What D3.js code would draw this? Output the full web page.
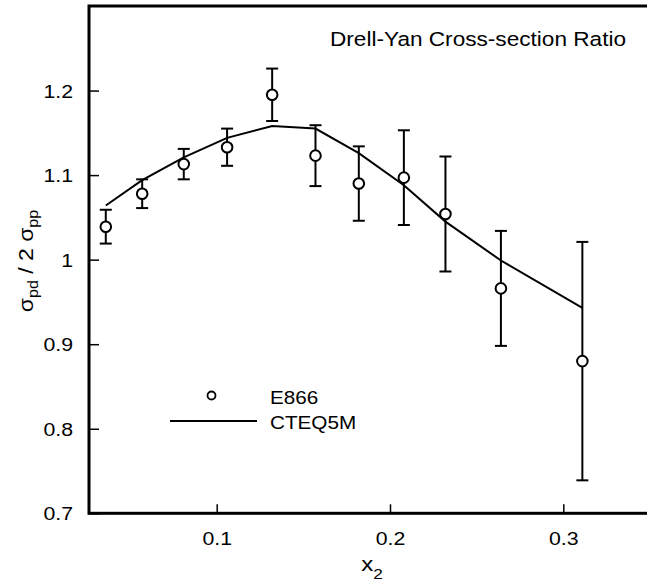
<!DOCTYPE html>
<html>
<head>
<meta charset="utf-8">
<script src="https://cdn.jsdelivr.net/npm/d3@7"></script>
<style>
  html, body { margin: 0; padding: 0; background: #fff; }
  svg { display: block; font-family: "Liberation Sans", Arial, Helvetica, sans-serif; }
</style>
</head>
<body>
<svg id="chart" width="647" height="582"></svg>
<script>
// ---- data ----
const x2Values   = [0.036, 0.057, 0.081, 0.106, 0.132, 0.157, 0.182, 0.208, 0.232, 0.264, 0.311];
const e866Ratio  = [1.039, 1.078, 1.113, 1.133, 1.195, 1.123, 1.090, 1.097, 1.054, 0.966, 0.880];
const e866Error  = [0.020, 0.017, 0.018, 0.022, 0.031, 0.036, 0.044, 0.056, 0.068, 0.068, 0.141];
const cteq5mRatio = [1.064, 1.094, 1.121, 1.144, 1.158, 1.155, 1.126, 1.088, 1.045, 0.999, 0.943];
const xTickValues = [0.1, 0.2, 0.3];
const yTickValues = [0.7, 0.8, 0.9, 1.0, 1.1, 1.2];
const yTickLabels = ["0.7", "0.8", "0.9", "1", "1.1", "1.2"];
const legendLabels = ["E866", "CTEQ5M"];
const titleText = "Drell-Yan Cross-section Ratio";

// ---- layout ----
const svg = d3.select("#chart");
const plotLeft = 89, plotTop = 6, plotBottom = 513.3, plotRight = 660;
const x = d3.scaleLinear().domain([0.1, 0.3]).range([216.7, 563.3]);
const y = d3.scaleLinear().domain([0.7, 1.3]).range([plotBottom, plotTop]);
const SX = 1.15; // horizontal stretch of the reference lettering

// frame
svg.append("rect")
  .attr("x", plotLeft).attr("y", plotTop)
  .attr("width", plotRight - plotLeft).attr("height", plotBottom - plotTop)
  .attr("fill", "none").attr("stroke", "#000").attr("stroke-width", 3);

// y axis (ticks inward)
const yAxis = svg.append("g")
  .attr("transform", `translate(${plotLeft},0)`)
  .call(d3.axisLeft(y).tickValues(yTickValues)
        .tickFormat((d, i) => yTickLabels[i]).tickSize(-10).tickPadding(0));
yAxis.select(".domain").remove();
yAxis.selectAll(".tick line").attr("stroke", "#000").attr("stroke-width", 1.5);
yAxis.selectAll(".tick text")
  .attr("font-size", 18.5).attr("fill", "#000")
  .attr("font-family", "Liberation Sans, Arial, sans-serif")
  .attr("x", -16 / SX).attr("dy", "0.36em")
  .attr("transform", `scale(${SX},1)`);

// x axis (ticks inward)
const xAxis = svg.append("g")
  .attr("transform", `translate(0,${plotBottom})`)
  .call(d3.axisBottom(x).tickValues(xTickValues)
        .tickFormat(d3.format(".1f")).tickSize(-9).tickPadding(0));
xAxis.select(".domain").remove();
xAxis.selectAll(".tick line").attr("stroke", "#000").attr("stroke-width", 1.5);
xAxis.selectAll(".tick text")
  .attr("font-size", 18.5).attr("fill", "#000")
  .attr("font-family", "Liberation Sans, Arial, sans-serif")
  .attr("y", 31.5).attr("dy", null)
  .attr("transform", `scale(${SX},1)`);

// theory curve
const pts = x2Values.map((v, i) => [v, cteq5mRatio[i]]);
svg.append("path")
  .datum(pts)
  .attr("fill", "none").attr("stroke", "#000").attr("stroke-width", 2)
  .attr("d", d3.line().x(d => x(d[0])).y(d => y(d[1])));

// error bars
const data = x2Values.map((v, i) => ({x: v, r: e866Ratio[i], e: e866Error[i]}));
const eb = svg.append("g").attr("stroke", "#000").attr("stroke-width", 2);
eb.selectAll("line.v").data(data).join("line").attr("class", "v")
  .attr("x1", d => x(d.x)).attr("x2", d => x(d.x))
  .attr("y1", d => y(d.r + d.e)).attr("y2", d => y(d.r - d.e));
eb.selectAll("line.t").data(data).join("line").attr("class", "t")
  .attr("x1", d => x(d.x) - 6).attr("x2", d => x(d.x) + 6)
  .attr("y1", d => y(d.r + d.e)).attr("y2", d => y(d.r + d.e));
eb.selectAll("line.b").data(data).join("line").attr("class", "b")
  .attr("x1", d => x(d.x) - 6).attr("x2", d => x(d.x) + 6)
  .attr("y1", d => y(d.r - d.e)).attr("y2", d => y(d.r - d.e));

// data points
svg.append("g").selectAll("circle").data(data).join("circle")
  .attr("cx", d => x(d.x)).attr("cy", d => y(d.r)).attr("r", 5.3)
  .attr("fill", "#fff").attr("stroke", "#000").attr("stroke-width", 2);

// title
svg.append("text")
  .attr("x", 330).attr("y", 46)
  .attr("font-size", 20.5).attr("fill", "#000")
  .attr("textLength", 296).attr("lengthAdjust", "spacingAndGlyphs")
  .text(titleText);

// legend
svg.append("circle").attr("cx", 211.5).attr("cy", 395.5).attr("r", 4)
  .attr("fill", "#fff").attr("stroke", "#000").attr("stroke-width", 1.8);
svg.append("line").attr("x1", 170).attr("x2", 257).attr("y1", 421).attr("y2", 421)
  .attr("stroke", "#000").attr("stroke-width", 2);
svg.selectAll("text.leg").data(legendLabels).join("text").attr("class", "leg")
  .attr("x", 0).attr("y", 0)
  .attr("transform", (d, i) => `translate(270,${403.7 + i * 24.8}) scale(${SX},1)`)
  .attr("font-size", 18).attr("fill", "#000")
  .text(d => d);

// y label: σpd / 2 σpp
const yl = svg.append("text")
  .attr("transform", `translate(33,261) rotate(-90) scale(${SX},1)`)
  .attr("text-anchor", "middle").attr("font-size", 20).attr("fill", "#000");
yl.append("tspan").text("σ");
yl.append("tspan").attr("font-size", 14).attr("dy", 5).text("pd");
yl.append("tspan").attr("dy", -5).text(" / 2 σ");
yl.append("tspan").attr("font-size", 14).attr("dy", 5).text("pp");

// x label: x2
const xl = svg.append("text")
  .attr("transform", `translate(372,570.5) scale(${SX},1)`)
  .attr("text-anchor", "middle").attr("font-size", 21).attr("fill", "#000");
xl.append("tspan").text("x");
xl.append("tspan").attr("font-size", 15).attr("dy", 8).text("2");
</script>
</body>
</html>
